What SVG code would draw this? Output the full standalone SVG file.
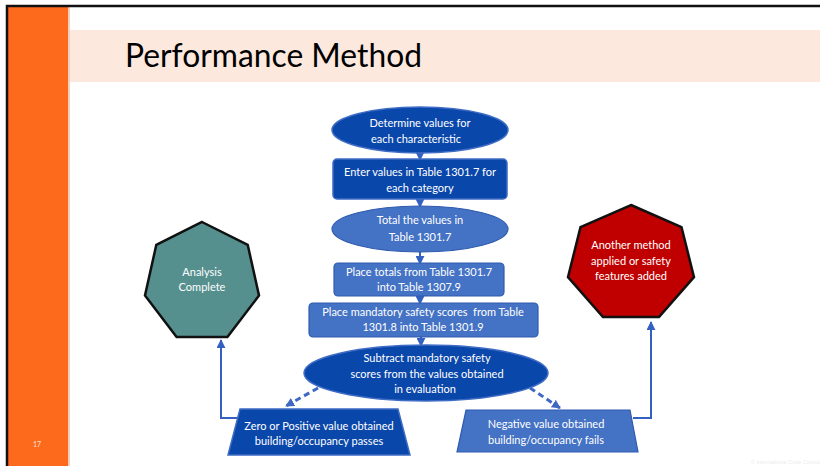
<svg xmlns="http://www.w3.org/2000/svg" width="820" height="466" viewBox="0 0 820 466">
<defs>
<style>
.t{font-family:Lato,"Liberation Sans",sans-serif;font-size:11px;fill:#ffffff;text-anchor:middle}
.dk{fill:#0A47AA;stroke:#3F6CC4;stroke-width:1.5}
.md{fill:#4472C4;stroke:#2F5BAE;stroke-width:1.2}
.c{fill:none;stroke:#3461C1;stroke-width:2}
.d{fill:none;stroke:#3E68C4;stroke-width:3;stroke-dasharray:6 4}
</style>
<marker id="ah" viewBox="0 0 10 10" refX="9" refY="5" markerWidth="4.5" markerHeight="4.5" orient="auto" markerUnits="strokeWidth">
<path d="M0,0 L10,5 L0,10 z" fill="#3461C1"/>
</marker>
<marker id="ahd" viewBox="0 0 10 10" refX="9" refY="5" markerWidth="3" markerHeight="3" orient="auto" markerUnits="strokeWidth">
<path d="M0,0 L10,5 L0,10 z" fill="#3E68C4"/>
</marker>
</defs>
<rect x="0" y="0" width="820" height="466" fill="#ffffff"/>
<rect x="8" y="7" width="60" height="459" fill="#FD6A1B"/>
<rect x="68" y="7" width="2" height="459" fill="#F2D0C0"/>
<path d="M7,466 L7,6 L820,6" fill="none" stroke="#111111" stroke-width="2.5"/>
<rect x="70" y="30" width="750" height="52" fill="#FDE8DE"/>
<text x="125" y="67" font-family="Lato,'Liberation Sans',sans-serif" font-size="33" fill="#000000" textLength="297" lengthAdjust="spacingAndGlyphs">Performance Method</text>
<text x="37" y="447" font-family="Lato,'Liberation Sans',sans-serif" font-size="7" fill="#FCE4D6" text-anchor="middle">17</text>
<text x="786" y="464" font-family="'Liberation Sans',sans-serif" font-size="5.5" fill="#ECECEC" text-anchor="middle">© International Code Council</text>

<g id="connectors">
<line class="c" x1="420" y1="148" x2="420" y2="160" marker-end="url(#ah)"/>
<line class="c" x1="420" y1="199" x2="420" y2="207" marker-end="url(#ah)"/>
<line class="c" x1="420" y1="250" x2="420" y2="264" marker-end="url(#ah)"/>
<line class="c" x1="420" y1="296" x2="420" y2="304" marker-end="url(#ah)"/>
<line class="c" x1="421" y1="337" x2="421" y2="346" marker-end="url(#ah)"/>
<line class="d" x1="318" y1="388" x2="286" y2="406" marker-end="url(#ahd)"/>
<line class="d" x1="530" y1="388" x2="560" y2="408" marker-end="url(#ahd)"/>
<polyline class="c" points="239,418 221,418 221,340" marker-end="url(#ah)"/>
<polyline class="c" points="633,418 651,418 651,322" marker-end="url(#ah)"/>
</g>

<g id="n1">
<ellipse class="dk" cx="420" cy="130" rx="88" ry="23"/>
<text class="t" x="420" y="127">Determine values for</text>
<text class="t" x="416" y="143">each characteristic</text>
</g>
<g id="n2">
<rect class="dk" x="333" y="159" width="174" height="40" rx="4"/>
<text class="t" x="420" y="176">Enter values in Table 1301.7 for</text>
<text class="t" x="420" y="192">each category</text>
</g>
<g id="n3">
<ellipse class="md" cx="420" cy="229" rx="88" ry="23"/>
<text class="t" x="420" y="224">Total the values in</text>
<text class="t" x="420" y="241">Table 1301.7</text>
</g>
<g id="n4">
<rect class="md" x="334" y="263" width="170" height="33" rx="4"/>
<text class="t" x="419" y="276">Place totals from Table 1301.7</text>
<text class="t" x="419" y="291">into Table 1307.9</text>
</g>
<g id="n5">
<rect class="md" x="309" y="303" width="229" height="34" rx="4"/>
<text class="t" x="423" y="316" xml:space="preserve">Place mandatory safety scores  from Table</text>
<text class="t" x="423" y="331">1301.8 into Table 1301.9</text>
</g>
<g id="n6">
<ellipse class="dk" cx="426" cy="373" rx="122" ry="28"/>
<text class="t" x="427" y="362">Subtract mandatory safety</text>
<text class="t" x="427" y="378">scores from the values obtained</text>
<text class="t" x="425" y="393">in evaluation</text>
</g>
<g id="n7">
<polygon class="dk" points="240,409 398,409 410,455 228,455"/>
<text class="t" x="319" y="430">Zero or Positive value obtained</text>
<text class="t" x="319" y="445">building/occupancy passes</text>
</g>
<g id="n8">
<polygon class="md" points="466,410 630,410 638,452 457,452"/>
<text class="t" x="546" y="428">Negative value obtained</text>
<text class="t" x="546" y="444">building/occupancy fails</text>
</g>
<g id="n9">
<polygon points="202,222 247.7,244.8 259,295.5 227.4,337 176.6,337 145,295.5 156.3,244.8" fill="#55908F" stroke="#111111" stroke-width="2.5"/>
<text class="t" x="202" y="276">Analysis</text>
<text class="t" x="202" y="291">Complete</text>
</g>
<g id="n10">
<polygon points="631,205 681.5,227.2 694,277.1 659,317 603,317 568,277.1 580.5,227.2" fill="#C00000" stroke="#111111" stroke-width="2.5"/>
<text class="t" x="631" y="249">Another method</text>
<text class="t" x="631" y="265">applied or safety</text>
<text class="t" x="631" y="280">features added</text>
</g>
</svg>
